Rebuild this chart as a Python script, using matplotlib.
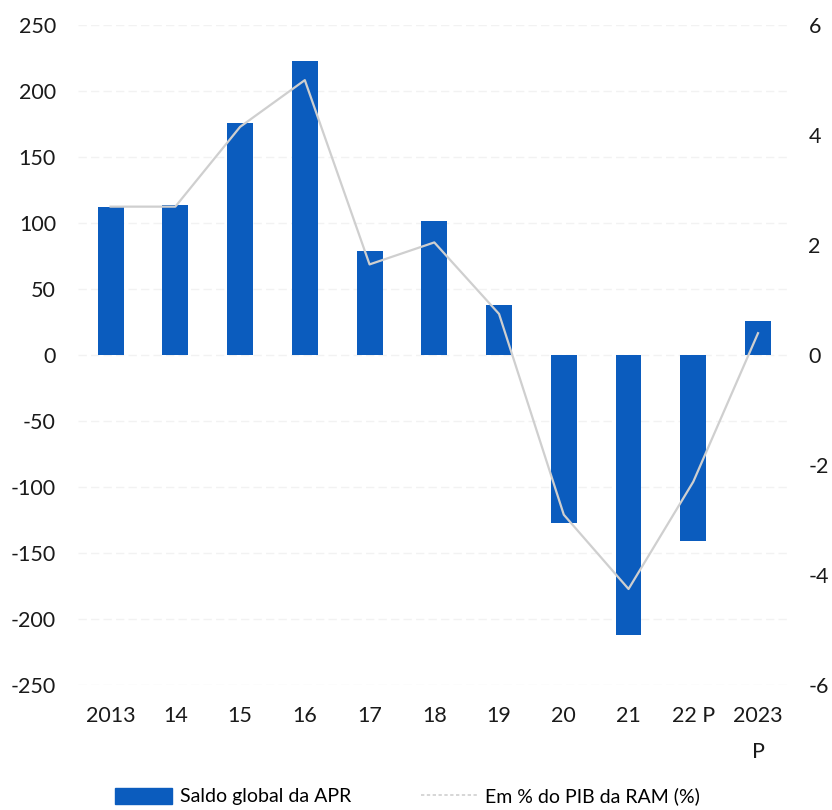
import numpy as np
import matplotlib.pyplot as plt
from matplotlib.patches import Patch
from matplotlib.lines import Line2D

# Dados
anos = ["2013", "14", "15", "16", "17", "18", "19", "20", "21", "22 P", "2023\nP"]
saldo_apr = [112, 114, 176, 223, 79, 102, 38, -127, -212, -141, 26]
pct_pib = [2.7, 2.7, 4.15, 5.0, 1.65, 2.05, 0.75, -2.9, -4.25, -2.3, 0.4]

plt.rcParams["font.family"] = ["Lato", "DejaVu Sans"]
plt.rcParams["axes.unicode_minus"] = False

fig = plt.figure(figsize=(8.32, 8.10), dpi=100)
ax = fig.add_axes([0.094, 0.154, 0.856, 0.815])
ax2 = ax.twinx()

x = np.arange(len(anos))
ax.bar(x, saldo_apr, width=0.4, color="#0B5CBE", zorder=2)
ax2.plot(x, pct_pib, color="#cfcfcf", linewidth=1.6, zorder=3)

ax.set_ylim(-250, 250)
ax.set_yticks(np.arange(-250, 251, 50))
ax2.set_ylim(-6, 6)
ax2.set_yticks(np.arange(-6, 7, 2))
ax.set_xlim(-0.5, len(anos) - 0.5)
ax.set_xticks(x)
ax.set_xticklabels(anos, linespacing=2.0)

ax.grid(axis="y", color="#f2f2f2", linewidth=1, linestyle=(0, (6, 3)), zorder=0)
ax.set_axisbelow(True)

for a in (ax, ax2):
    for s in a.spines.values():
        s.set_visible(False)
    a.tick_params(length=0, labelsize=15.5, colors="#1a1a1a")
ax.tick_params(axis="y", pad=16)
ax.tick_params(axis="x", pad=15)
ax2.tick_params(axis="y", pad=13)
ax2.set_zorder(ax.get_zorder() + 1)
ax2.patch.set_visible(False)

handles = [Patch(color="#0B5CBE"), Line2D([0], [0], color="#d0d0d0", linestyle=(0, (2, 1.5)), linewidth=1.2)]
fig.legend(handles, ["Saldo global da APR", "Em % do PIB da RAM (%)"],
           loc="lower center", bbox_to_anchor=(0.49, -0.016), ncol=2, frameon=False,
           fontsize=14, handlelength=2.9, handleheight=0.9, columnspacing=3.6, handletextpad=0.4)

fig.savefig("out.png", dpi=100)
plt.close()
